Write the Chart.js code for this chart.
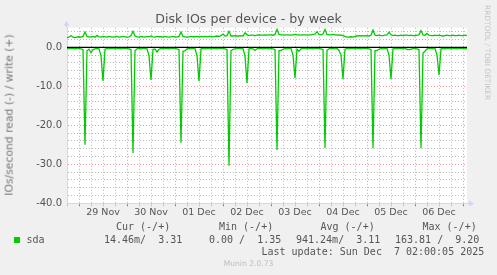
<!DOCTYPE html>
<html>
<head>
<meta charset="utf-8">
<script src="https://cdn.jsdelivr.net/npm/chart.js@4/dist/chart.umd.min.js"></script>
<style>
  html, body { margin: 0; padding: 0; background: #f0f0f0; }
  #wrap { position: relative; width: 497px; height: 275px; overflow: hidden; font-family: "DejaVu Sans", sans-serif; color: #555; }
  #wrap canvas { position: absolute; left: 0; top: 0; }
  .t { position: absolute; white-space: pre; line-height: 1; font-weight: normal; }
  .mono { font-family: "DejaVu Sans Mono", monospace; font-size: 10px; }
  .title { left: 0; width: 497px; top: 13.3px; text-align: center; font-size: 12.6px; }
  .ytitle { left: 10px; top: 115px; font-size: 10.8px; color: #777; transform: translate(-50%, -50%) rotate(-90deg); }
  .rrd { left: 484px; top: 5px; font-size: 7.4px; color: #c4c4c4; writing-mode: vertical-rl; }
  .munin { left: 0; width: 497px; text-align: center; top: 260.3px; font-size: 7.6px; color: #bcbcbc; }
  .swatch { position: absolute; left: 14px; top: 237px; width: 6px; height: 6px; background: #00cc00; }
</style>
</head>
<body>
<div id="wrap">
  <canvas id="c" width="497" height="275"></canvas>
  <div class="t title">Disk IOs per device - by week</div>
  <div class="t ytitle">IOs/second read (-) / write (+)</div>
  <div class="t rrd">RRDTOOL / TOBI OETIKER</div>
  <div class="t mono" style="left:116px;top:222.2px">Cur (-/+)</div>
  <div class="t mono" style="left:219px;top:222.2px">Min (-/+)</div>
  <div class="t mono" style="left:320.5px;top:222.2px">Avg (-/+)</div>
  <div class="t mono" style="left:422.5px;top:222.2px">Max (-/+)</div>
  <div class="swatch"></div>
  <div class="t mono" style="left:26.5px;top:234.8px">sda</div>
  <div class="t mono" style="left:104px;top:234.8px">14.46m/  3.31</div>
  <div class="t mono" style="left:209px;top:234.8px">0.00 /  1.35</div>
  <div class="t mono" style="left:296px;top:234.8px">941.24m/  3.11</div>
  <div class="t mono" style="left:395px;top:234.8px">163.81 /  9.20</div>
  <div class="t mono" style="left:261.5px;top:246.5px">Last update: Sun Dec  7 02:00:05 2025</div>
  <div class="t munin">Munin 2.0.73</div>
</div>
<script>
// hours counted from Nov 28 18:00, one sample per hour
const dayLabels     = ['29 Nov', '30 Nov', '01 Dec', '02 Dec', '03 Dec', '04 Dec', '05 Dec', '06 Dec']
const dayLabelHours = [18, 42, 66, 90, 114, 138, 162, 186]
const midnightHours = [6, 30, 54, 78, 102, 126, 150, 174, 198]
const gridHours     = [0, 6, 12, 18, 24, 30, 36, 42, 48, 54, 60, 66, 72, 78, 84, 90, 96, 102, 108, 114,
                       120, 126, 132, 138, 144, 150, 156, 162, 168, 174, 180, 186, 192, 198]
const yGridValues   = [-40, -38, -36, -34, -32, -30, -28, -26, -24, -22, -20, -18, -16, -14, -12, -10,
                       -8, -6, -4, -2, 0, 2, 4]

// read IOs/s (drawn negative)
const readIOs = [
  -0.3, -0.4, -0.3, -0.3, -0.4, -0.3,
  -0.3, -0.4, -0.6, -25.0, -0.9, -0.5, -1.4, -0.6, -0.4, -0.3, -0.4, -2.2, -8.6, -0.5, -0.3, -0.4, -0.3, -0.3, -0.4, -0.3, -0.3, -0.4, -0.3, -0.3,
  -0.3, -0.4, -0.6, -27.1, -0.9, -0.4, -0.3, -0.4, -0.3, -0.3, -0.4, -2.2, -8.4, -0.5, -0.4, -1.2, -0.5, -0.3, -0.4, -0.3, -0.3, -0.4, -0.3, -0.3,
  -0.3, -0.4, -0.6, -24.5, -1.0, -0.9, -0.4, -0.3, -0.4, -0.3, -0.3, -2.2, -8.7, -0.4, -0.3, -0.4, -0.3, -0.3, -0.4, -0.3, -0.3, -0.4, -0.3, -0.3,
  -0.3, -0.4, -0.6, -30.4, -0.9, -0.5, -0.4, -0.3, -0.3, -0.4, -0.3, -2.2, -9.2, -0.4, -0.3, -0.4, -0.8, -0.4, -0.3, -0.3, -0.4, -0.3, -0.3, -0.4,
  -0.3, -0.4, -0.6, -26.3, -0.9, -0.8, -0.5, -0.3, -0.4, -0.3, -0.3, -2.0, -7.9, -0.5, -1.0, -0.4, -0.3, -0.3, -0.4, -0.3, -0.3, -0.4, -0.3, -0.3,
  -0.3, -0.4, -0.6, -25.8, -0.8, -0.4, -0.3, -0.3, -0.4, -0.3, -0.8, -2.0, -8.1, -0.5, -0.3, -0.4, -0.3, -0.3, -0.4, -0.3, -0.3, -0.4, -0.3, -0.3,
  -0.3, -0.4, -0.6, -25.9, -0.9, -0.8, -0.5, -0.3, -0.4, -0.3, -0.3, -2.0, -8.1, -0.4, -0.3, -0.4, -0.3, -0.3, -0.4, -0.3, -0.5, -0.6, -0.5, -0.3,
  -0.3, -0.4, -0.6, -25.9, -1.5, -1.0, -0.4, -0.3, -0.3, -0.4, -0.3, -2.0, -7.1, -0.4, -0.3, -0.4, -0.3, -0.3, -0.4, -0.3, -0.3, -0.4, -0.3, -0.3,
  -0.3, -0.4, -0.3
]

// write IOs/s (drawn positive)
const writeIOs = [
  2.5, 2.6, 3.0, 2.6, 2.5, 2.6,
  2.7, 2.6, 2.8, 3.9, 2.8, 2.6, 2.7, 2.8, 2.6, 3.05, 2.7, 2.6, 2.8, 2.7, 2.6, 2.8, 2.7, 2.6, 2.7, 2.8, 2.6, 2.7, 2.8, 2.7,
  2.6, 2.7, 3.0, 4.1, 2.9, 2.7, 2.6, 2.8, 2.7, 2.6, 2.8, 2.7, 2.9, 2.7, 2.6, 2.8, 2.7, 2.7, 2.6, 2.8, 2.7, 2.6, 2.7, 2.8,
  2.7, 2.6, 2.8, 3.9, 2.8, 2.7, 2.6, 2.7, 2.8, 2.7, 2.7, 2.8, 2.7, 2.8, 2.7, 2.8, 2.7, 2.8, 2.8, 2.7, 2.8, 2.9, 2.8, 3.0,
  3.4, 2.9, 3.0, 4.1, 2.9, 2.9, 3.0, 2.9, 2.9, 3.0, 2.9, 3.7, 3.2, 3.0, 3.1, 3.1, 3.0, 3.1, 3.2, 3.1, 3.1, 3.2, 3.1, 3.2,
  3.2, 3.1, 3.3, 4.6, 3.3, 3.2, 3.2, 3.1, 3.2, 3.2, 3.1, 3.2, 3.3, 3.2, 3.2, 3.1, 3.2, 3.2, 3.1, 3.2, 3.2, 3.3, 3.4, 4.0,
  3.3, 3.2, 3.4, 4.6, 3.3, 3.2, 3.2, 3.3, 3.2, 3.1, 3.2, 3.1, 3.0, 2.8, 2.6, 2.6, 2.7, 2.6, 2.8, 2.9, 3.0, 2.9, 3.0, 2.9,
  3.0, 2.9, 3.1, 4.4, 3.1, 3.0, 3.1, 3.0, 3.0, 3.1, 3.2, 3.9, 3.2, 3.0, 3.1, 3.0, 3.0, 3.1, 3.0, 3.1, 3.1, 3.0, 3.1, 3.0,
  3.0, 3.1, 3.2, 4.3, 3.2, 3.1, 3.55, 3.1, 3.0, 3.0, 3.1, 3.0, 3.1, 3.0, 2.9, 3.0, 3.1, 3.0, 3.0, 3.1, 3.0, 3.0, 3.1, 3.0,
  3.0, 3.1, 3.0
]

// munin draws a black rule at zero
const zeroRuleHours  = [0, 200]
const zeroRuleValues = [0, 0]

const MAJOR = 'rgba(232, 110, 110, 0.7)'
const MINOR = 'rgba(140, 140, 140, 0.6)'
const AXIS  = '#cfd6f8'
const GREEN = '#00cc00'

const toPoints = (xs, ys) => ys.map((y, i) => ({ x: xs[i], y }))
const sampleHours = readIOs.map((_, i) => i)

// ── Plot background + axis arrows ─────────────────────────────────────────
const rrdFrame = {
  id: 'rrdFrame',
  beforeDraw(chart) {
    const { ctx, chartArea: a } = chart
    ctx.save()
    ctx.fillStyle = '#ffffff'
    ctx.fillRect(a.left, a.top, a.right - a.left, a.bottom - a.top)
    ctx.restore()
  },
  afterDraw(chart) {
    const { ctx, chartArea: a } = chart
    const x0 = Math.round(a.left) - 0.5
    const y0 = Math.round(a.bottom) + 0.5
    ctx.save()
    ctx.strokeStyle = AXIS
    ctx.fillStyle = AXIS
    ctx.lineWidth = 1
    ctx.beginPath()
    ctx.moveTo(x0, a.top); ctx.lineTo(x0, a.top - 3)
    ctx.moveTo(a.right, y0); ctx.lineTo(a.right + 3, y0)
    ctx.stroke()
    ctx.beginPath()
    ctx.moveTo(x0, a.top - 7); ctx.lineTo(x0 - 3, a.top - 2); ctx.lineTo(x0 + 3, a.top - 2); ctx.closePath()
    ctx.moveTo(a.right + 7, y0); ctx.lineTo(a.right + 2, y0 - 3); ctx.lineTo(a.right + 2, y0 + 3); ctx.closePath()
    ctx.fill()
    ctx.restore()
  }
}

Chart.defaults.font.family = 'DejaVu Sans'
Chart.defaults.color = '#555'

new Chart(document.getElementById('c'), {
  type: 'line',
  data: {
    datasets: [
      { label: 'zero', data: toPoints(zeroRuleHours, zeroRuleValues), borderColor: '#000000', borderWidth: 1.2, pointRadius: 0 },
      { label: 'sda read', data: toPoints(sampleHours, readIOs), borderColor: GREEN, borderWidth: 1.3, pointRadius: 0, tension: 0 },
      { label: 'sda write', data: toPoints(sampleHours, writeIOs), borderColor: GREEN, borderWidth: 1.3, pointRadius: 0, tension: 0 }
    ]
  },
  options: {
    responsive: false,
    animation: false,
    events: [],
    layout: { padding: { left: 0, right: 30, top: 27.8, bottom: 0 } },
    plugins: { legend: { display: false }, tooltip: { enabled: false }, title: { display: false } },
    scales: {
      x: {
        type: 'linear', min: 0, max: 200,
        afterBuildTicks: s => { s.ticks = gridHours.map(v => ({ value: v })) },
        afterFit: s => { s.height = 71.7 },
        ticks: {
          autoSkip: false, maxRotation: 0, padding: 1, color: '#555',
          font: { size: 9.5 },
          callback: v => { const i = dayLabelHours.indexOf(v); return i < 0 ? '' : dayLabels[i] }
        },
        grid: {
          color: c => midnightHours.includes(c.tick.value) ? MAJOR : MINOR,
          tickColor: c => midnightHours.includes(c.tick.value) ? 'rgba(232,90,90,0.9)' : 'rgba(150,150,150,0.5)',
          tickLength: 3, lineWidth: 1
        },
        border: { color: AXIS, width: 1, dash: [1, 2] }
      },
      y: {
        type: 'linear', min: -40, max: 5,
        afterBuildTicks: s => { s.ticks = yGridValues.map(v => ({ value: v })) },
        afterFit: s => { s.width = 67 },
        ticks: {
          autoSkip: false, padding: 5, color: '#555', font: { size: 10 },
          callback: v => (v % 10 === 0 ? v.toFixed(1) : '')
        },
        grid: {
          color: c => (c.tick.value % 10 === 0 ? MAJOR : MINOR),
          drawTicks: false, lineWidth: 1
        },
        border: { color: AXIS, width: 1, dash: [1, 2] }
      }
    }
  },
  plugins: [rrdFrame]
})
</script>
</body>
</html>
